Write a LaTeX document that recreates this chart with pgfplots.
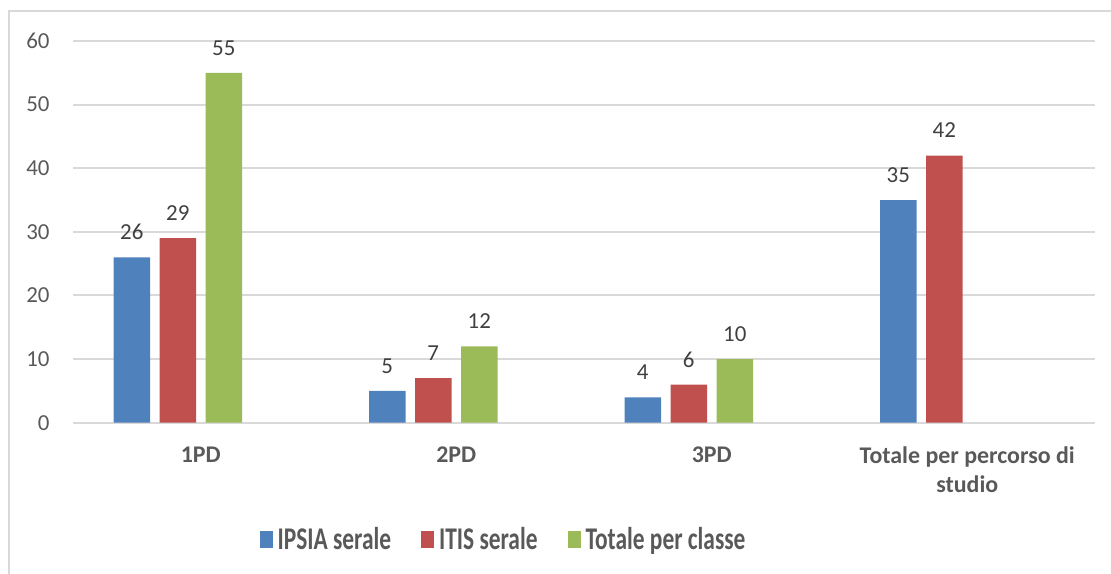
\documentclass[border=0pt]{standalone}
\usepackage{fontspec}
\setmainfont{Carlito}
\usepackage{graphicx}
\usepackage{pgfplots}
\pgfplotsset{compat=1.18}
\definecolor{cBlue}{HTML}{4F81BD}
\definecolor{cRed}{HTML}{C0504D}
\definecolor{cGreen}{HTML}{9BBB59}
\definecolor{cGrid}{HTML}{D9D9D9}
\definecolor{cTick}{HTML}{595959}
\definecolor{cLab}{HTML}{404040}
\begin{document}
\begin{tikzpicture}
\path[use as bounding box, clip] (-36.5bp,-75.65bp) rectangle (519bp,211.35bp);
\begin{axis}[
  at={(0,0)}, anchor=south west,
  scale only axis, width=511bp, height=190.85bp,
  xmin=-0.5, xmax=3.5, ymin=0, ymax=60,
  ybar, bar width=18.25bp,
  clip=false,
  ytick={0,10,...,60},
  xtick={0,1,2,3},
  xticklabels={1PD,2PD,3PD,{Totale per percorso di\\studio}},
  axis line style={draw=none},
  major tick length=0pt,
  ymajorgrids, grid style={cGrid, line width=1bp},
  /pgf/number format/assume math mode=true,
  yticklabel style={font=\fontsize{11.5}{13}\selectfont, text=cTick, anchor=east, inner sep=0pt, xshift=-11.5bp},
  xticklabel style={font=\fontsize{12}{14.5}\selectfont\bfseries, text=cTick, anchor=north, inner sep=0pt, yshift=-12bp, align=center},
  nodes near coords,
  nodes near coords style={font=\fontsize{11.5}{13}\selectfont, text=cLab, anchor=center, inner sep=0pt, yshift=12.5bp},
  legend columns=3,
  legend style={at={(0.4203,-0.3073)}, anchor=center, draw=none, fill=none, inner sep=0pt,
    nodes={inner sep=0pt, text=cTick, font=\fontsize{11.75}{13}\selectfont\bfseries},
    /tikz/every odd column/.style={column sep=2.5bp},
    /tikz/every even column/.style={column sep=15bp}},
  legend image code/.code={\fill[#1] (0bp,-4.25bp) rectangle (6.5bp,4.25bp);},
]
\addplot[fill=cBlue, draw=none, bar shift=-34.5bp] coordinates {(0,26) (1,5) (2,4) (3,35)};
\addplot[fill=cRed, draw=none, bar shift=-11.5bp] coordinates {(0,29) (1,7) (2,6) (3,42)};
\addplot[fill=cGreen, draw=none, bar shift=11.5bp] coordinates {(0,55) (1,12) (2,10)};
\legend{\scalebox{1}[1.35]{IPSIA serale},\scalebox{1}[1.35]{ITIS serale},\scalebox{1}[1.35]{Totale per classe}}
\end{axis}
\draw[cGrid, line width=1bp] (-31.75bp,-90bp) -- (-31.75bp,205.6bp) -- (540bp,205.6bp);
\end{tikzpicture}
\end{document}
